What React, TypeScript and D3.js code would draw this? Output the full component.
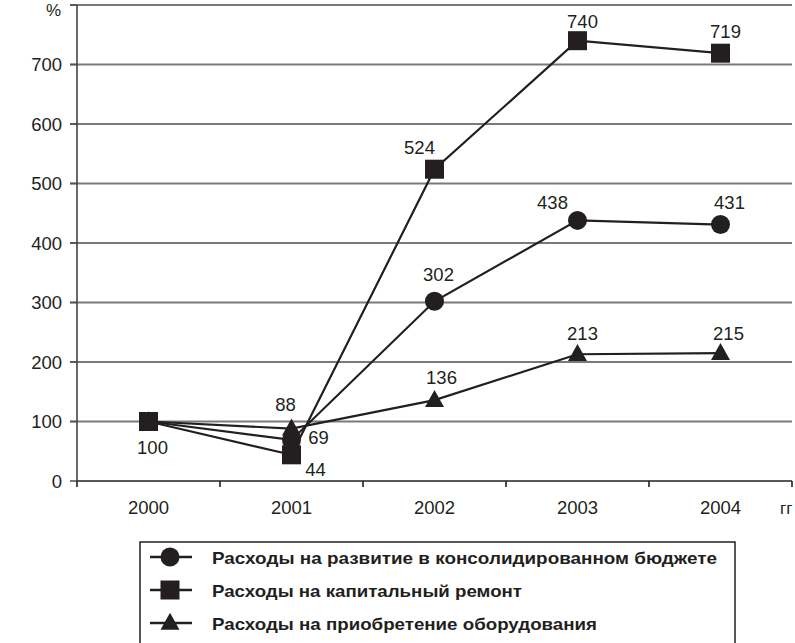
import React from "react";
import * as d3 from "d3";

const years = ["2000", "2001", "2002", "2003", "2004"];
const developmentValues = [100, 69, 302, 438, 431];
const repairValues = [100, 44, 524, 740, 719];
const equipmentValues = [100, 88, 136, 213, 215];
const yTicks = [0, 100, 200, 300, 400, 500, 600, 700, 800];
const seriesNames = [
  "Расходы на развитие в консолидированном бюджете",
  "Расходы на капитальный ремонт",
  "Расходы на приобретение оборудования",
];
// label placement per point: [dx, dy] offsets relative to marker centre
const devLabelPlace: ([number, number] | null)[] = [null, [27, -3], [4, -27], [-25, -18], [9, -22]];
const repLabelPlace: ([number, number] | null)[] = [[4, 26], [24, 15], [-15, -22], [5, -19], [5, -22]];
const eqLabelPlace: ([number, number] | null)[] = [null, [-6, -24], [7, -23], [5, -21], [8, -20]];
const legendTextWidths = [505, 310, 385];

const W = 795, H = 643;
const left = 77, right = 792, top = 5, bottom = 481;
const font = "'Liberation Sans', Arial, sans-serif";
const ink = "#231f20";
const numSize = 18.5;

function Marker({ kind, x, y }: { kind: string; x: number; y: number }) {
  if (kind === "circle") return <circle cx={x} cy={y} r={9.5} fill={ink} />;
  if (kind === "square") return <rect x={x - 9.5} y={y - 9.5} width={19} height={19} fill={ink} />;
  const w = 19, h = 17;
  return <path d={`M${x},${y - h * 0.6}L${x + w / 2},${y + h * 0.4}L${x - w / 2},${y + h * 0.4}Z`} fill={ink} />;
}

export default function App() {
  const x = d3.scaleBand<string>().domain(years).range([left, right]);
  const y = d3.scaleLinear().domain([0, 800]).range([bottom, top]);
  const cx = (yr: string) => (x(yr) as number) + x.bandwidth() / 2;
  const line = d3.line<number>().x((_, i) => cx(years[i])).y((d) => y(d));

  const series = [
    { vals: developmentValues, kind: "circle", place: devLabelPlace },
    { vals: equipmentValues, kind: "triangle", place: eqLabelPlace },
    { vals: repairValues, kind: "square", place: repLabelPlace },
  ];
  const legendKinds = ["circle", "square", "triangle"];
  const bounds = [...years.map((yr) => x(yr) as number), right];

  return (
    <svg width={W} height={H} style={{ position: "absolute", left: 0, top: 0, background: "#fff" }} fontFamily={font}>
      {yTicks.map((t) => (
        <g key={t}>
          <line x1={t === 0 ? left : 70} x2={right} y1={y(t)} y2={y(t)} stroke={t === 0 ? ink : "#7a7a7a"} strokeWidth={t === 0 ? 1.6 : 1.8} />
          <line x1={70} x2={left} y1={y(t)} y2={y(t)} stroke="#555" strokeWidth={1.6} />
          {t === 800 ? (
            <text x={61} y={16} textAnchor="end" fontSize={17} fill={ink}>%</text>
          ) : (
            <text x={62} y={y(t)} dy="0.36em" textAnchor="end" fontSize={numSize} fill={ink}>{t}</text>
          )}
        </g>
      ))}
      <line x1={left} x2={left} y1={top} y2={bottom} stroke="#444" strokeWidth={1.6} />
      {bounds.map((b, i) => (
        <line key={i} x1={b} x2={b} y1={bottom} y2={bottom + 6} stroke={ink} strokeWidth={1.6} />
      ))}
      {years.map((yr) => (
        <text key={yr} x={cx(yr)} y={507} dy="0.36em" textAnchor="middle" fontSize={numSize} fill={ink}>{yr}</text>
      ))}
      <text x={780} y={508} dy="0.36em" fontSize={17} fill={ink}>гг</text>

      {series.map((s, si) => (
        <path key={si} d={line(s.vals) as string} fill="none" stroke={ink} strokeWidth={2.2} />
      ))}
      {series.map((s, si) =>
        s.vals.map((v, i) => <Marker key={si + "-" + i} kind={s.kind} x={cx(years[i])} y={y(v)} />)
      )}
      {series.map((s, si) =>
        s.vals.map((v, i) => {
          const p = s.place[i];
          if (!p) return null;
          return (
            <text key={"l" + si + "-" + i} x={cx(years[i]) + p[0]} y={y(v) + p[1]} dy="0.36em" textAnchor="middle" fontSize={numSize} fill={ink}>{v}</text>
          );
        })
      )}

      <rect x={140} y={542} width={595} height={120} fill="none" stroke={ink} strokeWidth={1.5} />
      {seriesNames.map((n, i) => {
        const ly = 557 + i * 33;
        return (
          <g key={n}>
            <line x1={150} x2={192} y1={ly} y2={ly} stroke={ink} strokeWidth={2.4} />
            <Marker kind={legendKinds[i]} x={170} y={ly} />
            <text x={212} y={ly + 1} dy="0.36em" fontSize={17} fontWeight="bold" fill={ink} textLength={legendTextWidths[i]} lengthAdjust="spacingAndGlyphs">{n}</text>
          </g>
        );
      })}
    </svg>
  );
}
